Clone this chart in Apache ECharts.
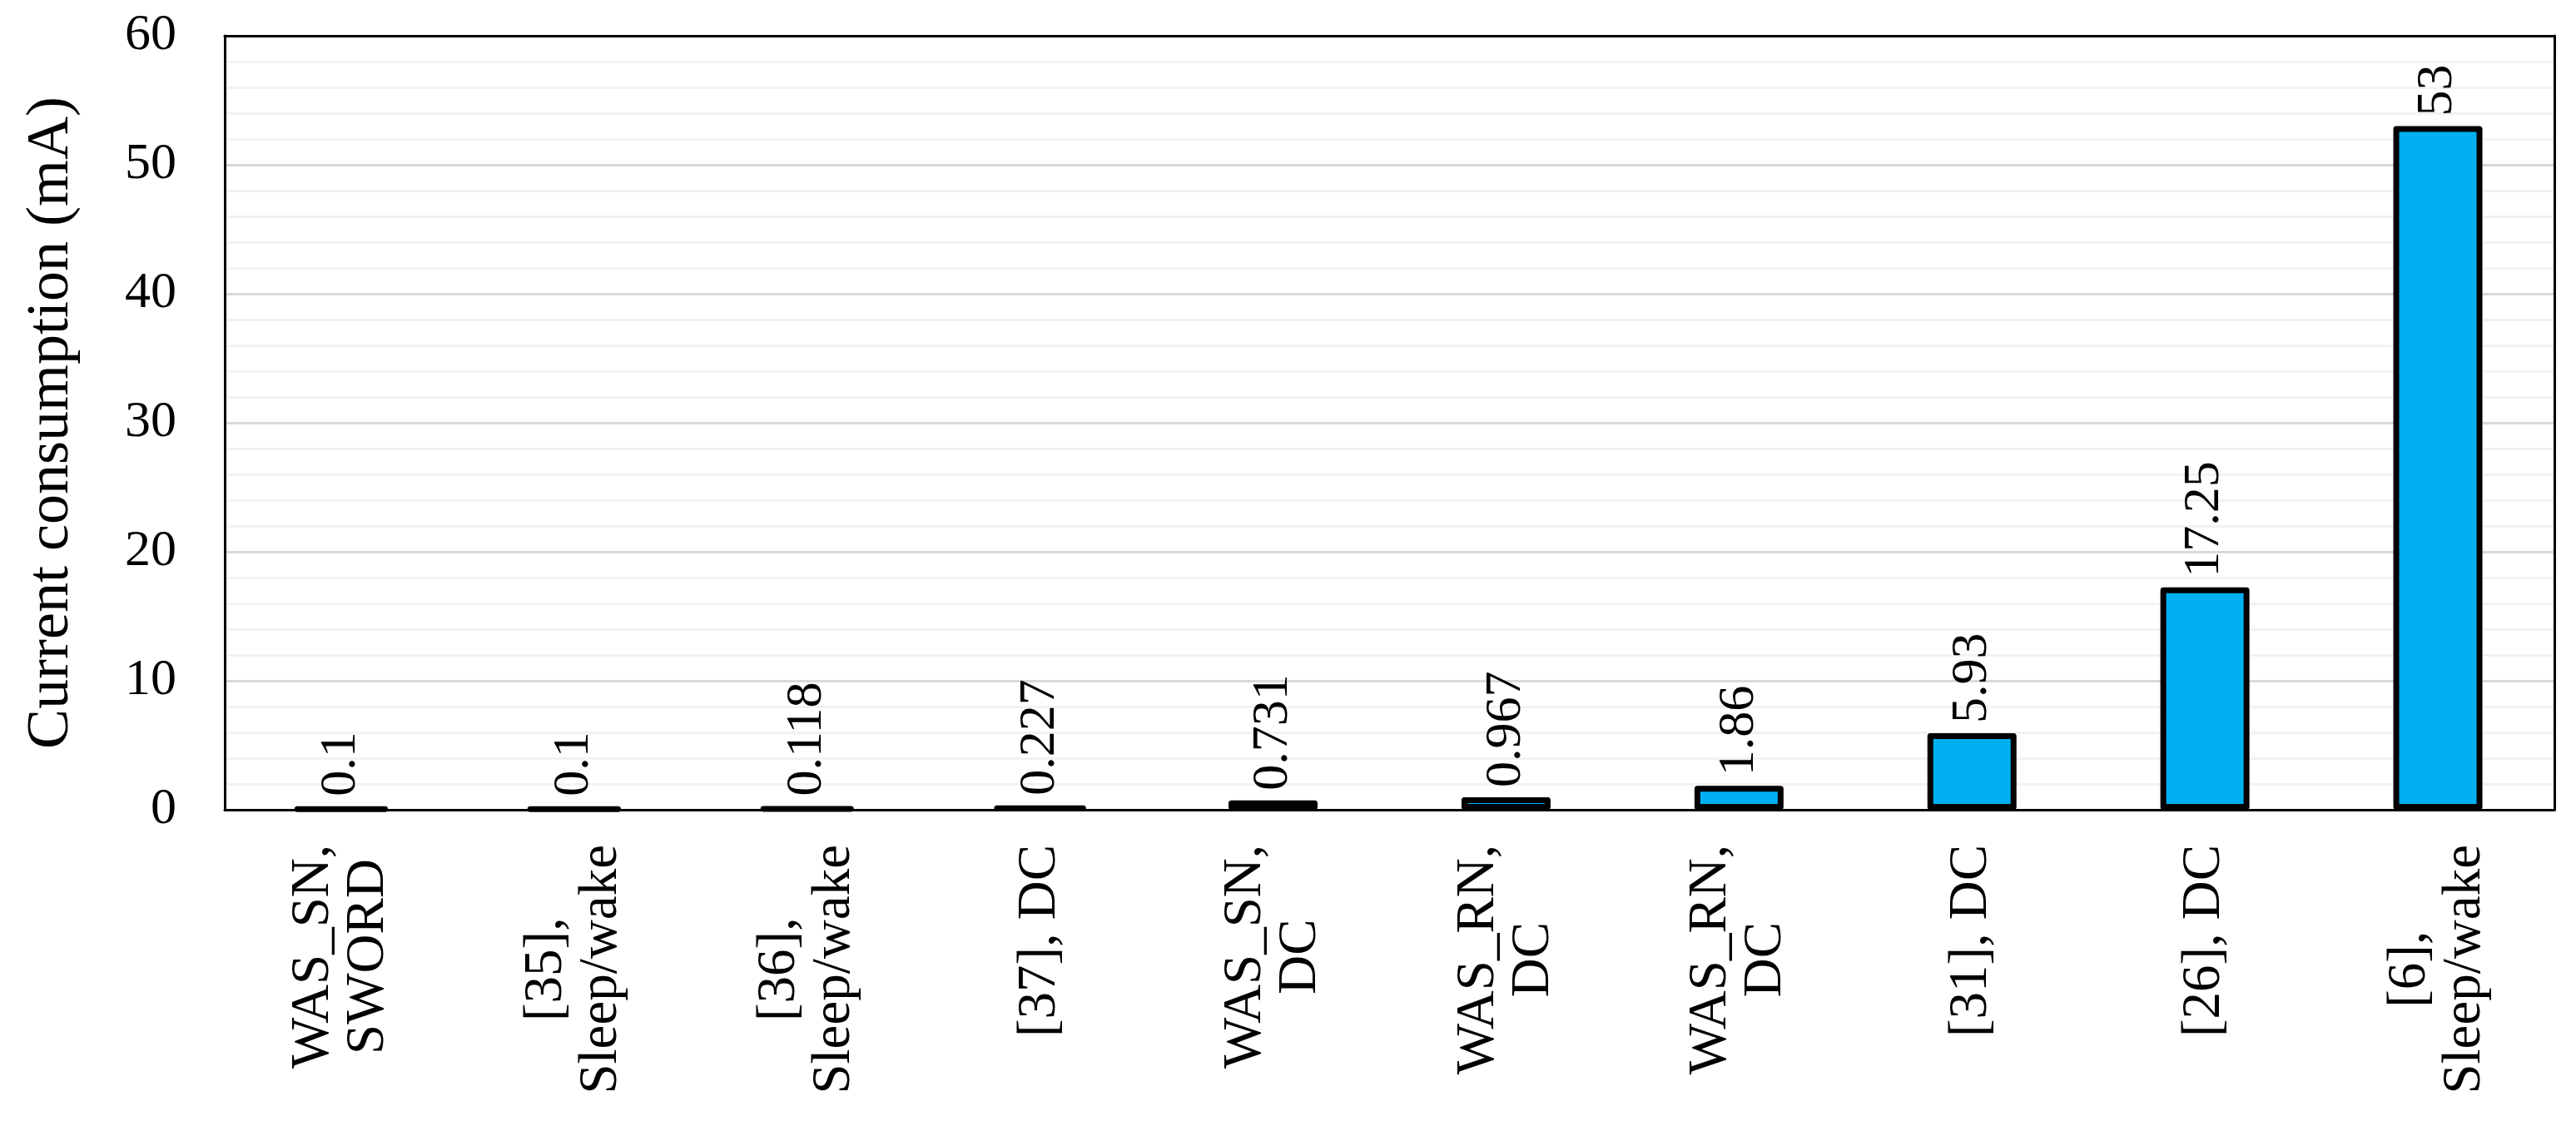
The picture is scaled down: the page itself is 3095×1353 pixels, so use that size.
<!DOCTYPE html>
<html>
<head>
<meta charset="utf-8">
<script src="https://cdn.jsdelivr.net/npm/echarts@6/dist/echarts.min.js"></script>
<style>
html, body { margin: 0; padding: 0; background: #fff; }
#chart { width: 3095px; height: 1353px; }
</style>
</head>
<body>
<div id="chart"></div>
<script>
var categories = [
	["WAS_SN,", "SWORD"],
	["[35],", "Sleep/wake"],
	["[36],", "Sleep/wake"],
	["[37], DC"],
	["WAS_SN,", "DC"],
	["WAS_RN,", "DC"],
	["WAS_RN,", "DC"],
	["[31], DC"],
	["[26], DC"],
	["[6],", "Sleep/wake"]
];
var currentValues = [0.1, 0.1, 0.118, 0.227, 0.731, 0.967, 1.86, 5.93, 17.25, 53];
var yTicks = [0, 10, 20, 30, 40, 50, 60];
var yTitle = "Current consumption (mA)";

var font = "'Liberation Serif', 'Times New Roman', serif";

// category keys are joined lines, the formatter splits them again
var catKeys = categories.map(function(c) { return c.join("\n"); });

var chart = echarts.init(document.getElementById("chart"), null, { renderer: "canvas" });

var opt = {
	backgroundColor: "#fff",
	animation: false,
	grid: {
		left: 270,
		right: 26,
		top: 43,
		bottom: 380
	},
	xAxis: [
		{
			type: "category",
			data: catKeys,
			axisLine: { show: true, lineStyle: { color: "#000", width: 3 } },
			axisTick: { show: false },
			axisLabel: {
				interval: 0,
				rotate: 90,
				margin: 42,
				color: "#000",
				fontFamily: font,
				fontSize: 65,
				formatter: function(value) {
					return value.split("\n").map(function(s) {
						return "{c|" + s + "}";
					}).join("\n");
				},
				rich: {
					c: {
						align: "center",
						fontFamily: font,
						fontSize: 65,
						lineHeight: 66,
						color: "#000"
					}
				}
			},
			splitLine: { show: false }
		},
		{
			type: "category",
			position: "top",
			data: catKeys,
			axisLine: { show: true, onZero: false, lineStyle: { color: "#000", width: 3 } },
			axisTick: { show: false },
			axisLabel: { show: false },
			splitLine: { show: false }
		}
	],
	yAxis: [
		{
			type: "value",
			min: yTicks[0],
			max: yTicks[yTicks.length - 1],
			interval: yTicks[1] - yTicks[0],
			name: yTitle,
			nameLocation: "middle",
			nameGap: 172,
			nameTextStyle: {
				color: "#000",
				fontFamily: font,
				fontSize: 72
			},
			axisLine: { show: true, lineStyle: { color: "#000", width: 3 } },
			axisTick: { show: false },
			axisLabel: {
				margin: 58,
				color: "#000",
				fontFamily: font,
				fontSize: 62
			},
			splitLine: {
				show: true,
				lineStyle: { color: "#d9d9d9", width: 3 }
			},
			minorTick: { show: false, splitNumber: 5 },
			minorSplitLine: {
				show: true,
				lineStyle: { color: "#f2f2f2", width: 3 }
			}
		},
		{
			type: "value",
			position: "right",
			min: yTicks[0],
			max: yTicks[yTicks.length - 1],
			interval: yTicks[1] - yTicks[0],
			axisLine: { show: true, lineStyle: { color: "#000", width: 3 } },
			axisTick: { show: false },
			axisLabel: { show: false },
			splitLine: { show: false }
		}
	],
	series: [
		{
			type: "bar",
			data: currentValues,
			barWidth: 107,
			itemStyle: {
				color: "#00B0F0",
				borderColor: "#000",
				borderWidth: 7,
				borderJoin: "round"
			},
			label: {
				show: true,
				position: "top",
				rotate: 90,
				align: "left",
				verticalAlign: "middle",
				distance: 12,
				color: "#000",
				fontFamily: font,
				fontSize: 62
			}
		}
	]
};

chart.setOption(opt);
</script>
</body>
</html>
